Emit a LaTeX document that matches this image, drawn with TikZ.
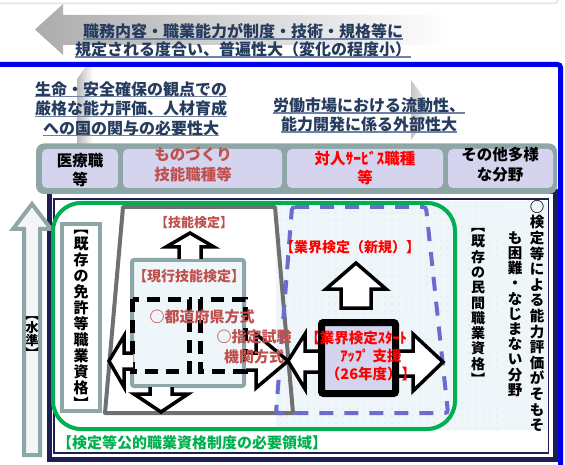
\documentclass[tikz,border=0pt]{standalone}
\usepackage{fontspec}
\newfontfamily\jp{Noto Sans CJK JP}
\usetikzlibrary{patterns.meta}
\definecolor{navyc}{RGB}{30,30,82}
\definecolor{bluec}{RGB}{0,0,238}
\definecolor{tealc}{RGB}{143,166,167}
\definecolor{lavc}{RGB}{212,212,238}
\definecolor{darkt}{RGB}{38,60,95}
\definecolor{ulc}{RGB}{110,130,165}
\definecolor{redb}{RGB}{192,80,77}
\definecolor{redr}{RGB}{255,0,0}
\definecolor{grnc}{RGB}{0,176,80}
\definecolor{bdash}{RGB}{108,108,208}
\definecolor{palec}{RGB}{239,246,249}
\definecolor{dotc}{RGB}{196,220,230}
\definecolor{trapc}{RGB}{112,112,112}
\newcommand\jf[2]{\jp\bfseries\fontsize{#1}{#2}\selectfont}
\tikzset{
  lbl/.style={inner sep=0pt, align=center},
  ul/.style={ulc, line width=1.2pt},
  blockarrow/.style={draw=black, fill=white, line width=3.5pt, line join=miter},
  dashbox/.style={draw=black, line width=5pt, dash pattern=on 13pt off 8pt},
}
\begin{document}
\begin{tikzpicture}[x=1pt,y=-1pt]
\useasboundingbox (0,0) rectangle (565,465);
\fill[white] (0,0) rectangle (565,465);

% faint decorations
\draw[gray!22, line width=1.5pt, rounded corners=4pt] (0,3.5) -- (558,3.5) -- (558,-6);
\shade[left color=gray!65, right color=white] (35,29.5) -- (63,4) -- (63,15) -- (450,15) -- (450,45) -- (63,45) -- (63,55) -- cycle;
\shade[left color=gray!55, right color=white] (93,57) -- (77,79) -- (77,145) -- (93,145) -- cycle;
\shade[left color=gray!45, right color=white] (411,80) -- (433,110) -- (411,140) -- cycle;

% blue border
\draw[bluec, line width=5pt, rounded corners=3pt] (-5,64.5) -- (560.5,64.5) -- (560.5,470);

% top texts
\node[lbl, font=\jf{16}{16}, text=darkt] (t1) at (243,31) {職務内容・職業能力が制度・技術・規格等に};
\node[lbl, font=\jf{16}{16}, text=darkt] (t2) at (243,49) {規定される度合い、普遍性大（変化の程度小）};
\draw[ul] (t1.south west) -- (t1.south east);
\draw[ul] (t2.south west) -- (t2.south east);

\node[lbl, font=\jf{16}{16}, text=darkt] (a1) at (131,89) {生命・安全確保の観点での};
\node[lbl, font=\jf{16}{16}, text=darkt] (a2) at (131,108.5) {厳格な能力評価、人材育成};
\node[lbl, font=\jf{16}{16}, text=darkt] (a3) at (131,128) {への国の関与の必要性大};
\draw[ul] (a1.south west) -- (a1.south east);
\draw[ul] (a2.south west) -- (a2.south east);
\draw[ul] (a3.south west) -- (a3.south east);

\node[lbl, font=\jf{16}{16}, text=darkt] (b1) at (369,105) {労働市場における流動性、};
\node[lbl, font=\jf{16}{16}, text=darkt] (b2) at (369,124) {能力開発に係る外部性大};
\draw[ul] (b1.south west) -- (b1.south east);
\draw[ul] (b2.south west) -- (b2.south east);

% navy frame
\draw[navyc, line width=5pt] (49.5,192) rectangle (555,459.5);
\draw[navyc, line width=1.2pt] (54,199) rectangle (548.5,453);

% category boxes
\fill[tealc, rounded corners=8pt] (36,143.5) rectangle (557,194);
\fill[lavc, rounded corners=5pt] (42,149) rectangle (118,188);
\fill[lavc, rounded corners=5pt] (123,149) rectangle (282,188);
\fill[lavc, rounded corners=5pt] (287,149) rectangle (443,188);
\fill[lavc, rounded corners=5pt] (448,149) rectangle (553,188);
\node[lbl, font=\jf{15.5}{19}] (c1) at (80,170.5) {医療職\\等};
\node[lbl, font=\jf{15.5}{20}, text=redb] (c2) at (193,165) {ものづくり\\技能職種等};
\node[lbl, font=\jf{15.5}{19}, text=redr] (c3) at (365,168.5) {対人ｻｰﾋﾞｽ職種\\等};
\node[lbl, font=\jf{15.5}{20}] (c4) at (500,165) {その他多様\\な分野};

% pale dotted region
\fill[palec] (276,201) rectangle (547,430);
\fill[pattern={Dots[distance=7pt, radius=0.7pt]}, pattern color=dotc] (276,201) rectangle (500,430);

% level arrow
\filldraw[draw=tealc, fill=gray!8, line width=4pt, line join=miter] (32,204) -- (51,229) -- (40,229) -- (40,455) -- (24,455) -- (24,229) -- (13,229) -- cycle;
\node[lbl, font=\jf{13}{13}] (sj) at (32,337.5) {︻\\水\\準\\︼};

% existing licence box
\filldraw[draw=tealc, fill=white, line width=4pt] (62,224) rectangle (100,411);
\node[lbl, font=\jf{15}{16}] (mk) at (81,320) {︻\\既\\存\\の\\免\\許\\等\\職\\業\\資\\格\\︼};

% green area
\draw[grnc, line width=4pt, rounded corners=28pt] (53,203) rectangle (455,429);
\node[lbl, font=\jf{15}{15}, text=grnc, anchor=west] (gr) at (57,443) {【検定等公的職業資格制度の必要領域】};

% trapezoid and dashed blue
\draw[trapc, line width=4pt, line join=round] (123,207) -- (275,207) -- (293,413) -- (105,413) -- cycle;
\draw[bdash, line width=4pt, dash pattern=on 14pt off 11pt, rounded corners=3pt] (292,207) -- (426,207) -- (448,413) -- (276,413) -- cycle;

% current skill test box
\filldraw[draw=tealc, fill=palec, line width=4pt, rounded corners=2pt] (132,260) rectangle (244,386);
\draw[dashbox] (132.5,299) rectangle (189.5,371);
\draw[dashbox] (200,299) rectangle (245,371);

% block arrows
\filldraw[blockarrow] (179,259) -- (179,247) -- (166,247) -- (190,233) -- (214,247) -- (201,247) -- (201,259);
\filldraw[blockarrow] (150,387) -- (150,394) -- (134,394) -- (161,412) -- (188,394) -- (172,394) -- (172,387);
\filldraw[blockarrow] (133,353) -- (124,353) -- (124,336) -- (109,361) -- (124,387) -- (124,369) -- (133,369);
\filldraw[blockarrow] (246,353) -- (256,353) -- (256,334) -- (288,361) -- (256,388) -- (256,370) -- (246,370);
\filldraw[blockarrow] (318,351) -- (305,351) -- (305,334) -- (288,361) -- (305,389) -- (305,372) -- (318,372);
\filldraw[blockarrow] (399,351) -- (413,351) -- (413,334) -- (443,362) -- (413,391) -- (413,376) -- (399,376);
\filldraw[blockarrow] (356,263) -- (386,289) -- (371,289) -- (371,308) -- (341,308) -- (341,289) -- (326,289) -- cycle;

% industry start-up box
\filldraw[draw=black, fill=lavc, line width=7pt, rounded corners=2pt] (321.5,322.5) rectangle (395.5,393.5);

% labels
\node[lbl, font=\jf{13}{13}, text=redb] (gn) at (194,223) {【技能検定】};
\node[lbl, font=\jf{14}{14}, text=redb] (gk) at (189,276) {【現行技能検定】};
\node[lbl, font=\jf{15}{15}, text=redb] (td) at (202,317) {○都道府県方式};
\node[lbl, font=\jf{15}{20}, text=redb] (sk) at (254,347) {○指定試験\\機関方式};
\node[lbl, font=\jf{14}{14}, text=redr] (gy) at (350,247) {【業界検定（新規）】};
\node[lbl, font=\jf{14.5}{14.5}, text=redr] (ss1) at (356,338) {【業界検定ｽﾀｰﾄ};
\node[lbl, font=\jf{14.5}{14.5}, text=redr] (ss2) at (371,356) {ｱｯﾌﾟ 支援};
\node[lbl, font=\jf{14.5}{14.5}, text=redr] (ss3) at (371,374) {（26年度）】};

\node[lbl, font=\jf{14}{15.3}] (mn) at (478,306.5) {︻\\既\\存\\の\\民\\間\\職\\業\\資\\格\\︼};
\node[lbl, font=\jf{14.5}{15.6}] (v1) at (537,316) {○\\検\\定\\等\\に\\よ\\る\\能\\力\\評\\価\\が\\そ\\も\\そ};
\node[lbl, font=\jf{14.5}{15.2}] (v2) at (515,314) {も\\困\\難\\・\\な\\じ\\ま\\な\\い\\分\\野};
\end{tikzpicture}
\end{document}
